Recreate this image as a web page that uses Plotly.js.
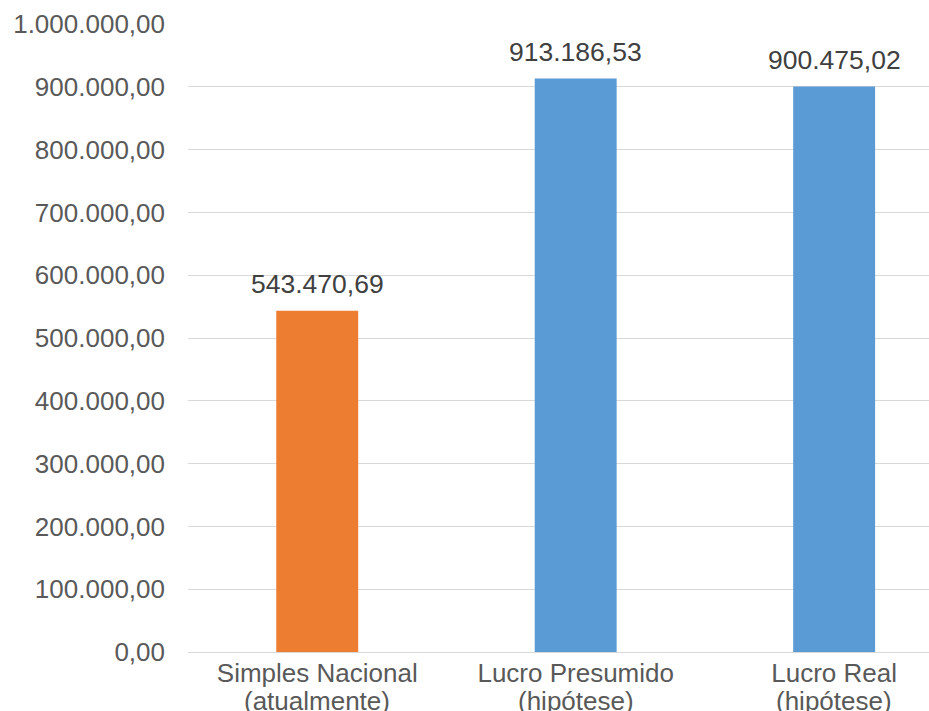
<!DOCTYPE html>
<html>
<head>
<meta charset="utf-8">
<script src="https://cdn.plot.ly/plotly-3.0.1.min.js"></script>
<style>html,body{margin:0;padding:0;background:#fff;}#chart{width:929px;height:711px;}</style>
</head>
<body>
<div id="chart"></div>
<script>
const categories = ["Simples Nacional", "Lucro Presumido", "Lucro Real"];
const subLabels = ["(atualmente)", "(hipótese)", "(hipótese)"];
const values = [543470.69, 913186.53, 900475.02];
const barColors = ["#ED7D31", "#5B9BD5", "#5B9BD5"];

function fmtBR(v) {
  const parts = v.toFixed(2).split(".");
  parts[0] = parts[0].replace(/\B(?=(\d{3})+(?!\d))/g, ".");
  return parts[0] + "," + parts[1];
}

const font = "Liberation Sans, Arial, sans-serif";
const textColor = "#595959";

const trace = {
  type: "bar",
  x: categories,
  y: values,
  marker: { color: barColors },
  width: 0.317,
  hoverinfo: "none"
};

const valueLabels = categories.map((c, i) => ({
  x: c, y: values[i], xref: "x", yref: "y",
  text: fmtBR(values[i]),
  showarrow: false, yanchor: "middle", yshift: 27,
  font: { family: font, size: 26.5, color: "#404040" }
}));

const subLabelAnns = categories.map((c, i) => ({
  x: c, y: 0, xref: "x", yref: "paper",
  text: subLabels[i],
  showarrow: false, yanchor: "middle", yshift: -49,
  font: { family: font, size: 26, color: textColor }
}));

const layout = {
  width: 929, height: 711,
  margin: { l: 188, r: 0, t: 24, b: 59, pad: 0 },
  paper_bgcolor: "#fff", plot_bgcolor: "#fff",
  separators: ",.",
  showlegend: false,
  xaxis: {
    range: [-0.5, 2.367],
    showgrid: false, zeroline: false,
    showline: true, linecolor: "#d9d9d9", linewidth: 1,
    ticks: "", tickangle: 0, ticklabelstandoff: -2,
    tickfont: { family: font, size: 26, color: textColor },
    fixedrange: true
  },
  yaxis: {
    range: [0, 1000000],
    dtick: 100000, tick0: 0,
    tickformat: ",.2f",
    showgrid: true, gridcolor: "#d9d9d9", gridwidth: 1,
    zeroline: false, showline: false,
    ticks: "", ticklabelstandoff: 22,
    tickfont: { family: font, size: 26, color: textColor },
    fixedrange: true
  },
  annotations: valueLabels.concat(subLabelAnns)
};

Plotly.newPlot("chart", [trace], layout, { displayModeBar: false, staticPlot: true });
</script>
</body>
</html>
